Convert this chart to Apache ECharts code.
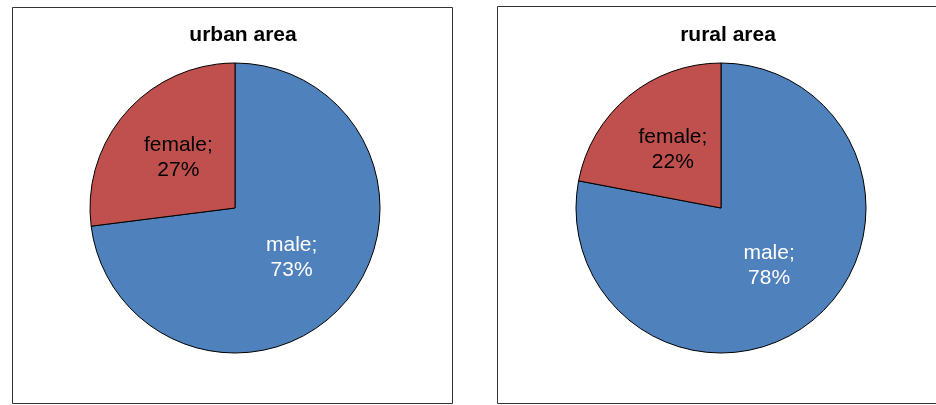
<!DOCTYPE html>
<html>
<head>
<meta charset="utf-8">
<script src="https://cdn.jsdelivr.net/npm/echarts@6/dist/echarts.min.js"></script>
<style>
  html, body { margin: 0; padding: 0; background: #fff; }
  #chart { width: 936px; height: 405px; }
</style>
</head>
<body>
<div id="chart"></div>
<script>
// data
const titles = ['urban area', 'rural area'];
const categories = ['male', 'female'];
const urbanValues = [73, 27];
const ruralValues = [78, 22];

const colors = ['#4F81BD', '#C0504D'];
const labelColors = ['#ffffff', '#000000'];
const fontFamily = 'Liberation Sans, Arial, sans-serif';

const chart = echarts.init(document.getElementById('chart'));

const makeData = (values) =>
  categories.map((name, i) => ({
    name: name,
    value: values[i],
    itemStyle: { color: colors[i] },
    label: { color: labelColors[i] }
  }));

const makePie = (values, cx) => ({
  type: 'pie',
  center: [cx, 208],
  radius: 145,
  startAngle: 90,
  clockwise: true,
  silent: true,
  itemStyle: { borderColor: '#000', borderWidth: 1 },
  label: {
    show: true,
    position: 'inner',
    fontFamily: fontFamily,
    fontSize: 21,
    lineHeight: 25,
    formatter: '{b};\n{c}%'
  },
  labelLine: { show: false },
  data: makeData(values)
});

const titleStyle = { fontFamily: fontFamily, fontSize: 21, fontWeight: 'bold', color: '#000' };

const option = {
  animation: false,
  title: [
    { text: titles[0], left: 238, top: 20, textAlign: 'center', textStyle: titleStyle },
    { text: titles[1], left: 723, top: 20, textAlign: 'center', textStyle: titleStyle }
  ],
  graphic: [
    {
      type: 'rect',
      shape: { x: 12.5, y: 7.5, width: 440, height: 396 },
      style: { fill: 'none', stroke: '#333', lineWidth: 1 },
      z: -1
    },
    {
      type: 'rect',
      shape: { x: 497.5, y: 6.5, width: 445, height: 397 },
      style: { fill: 'none', stroke: '#333', lineWidth: 1 },
      z: -1
    }
  ],
  series: [makePie(urbanValues, 235), makePie(ruralValues, 721)]
};

chart.setOption(option);
</script>
</body>
</html>
